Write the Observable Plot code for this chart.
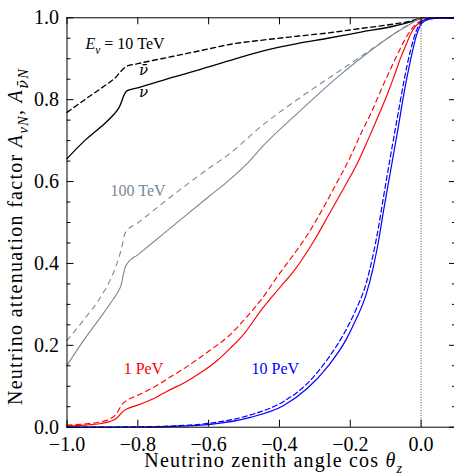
<!DOCTYPE html>
<html><head><meta charset="utf-8">
<script src="https://cdn.jsdelivr.net/npm/d3@7"></script>
<script src="https://cdn.jsdelivr.net/npm/@observablehq/plot@0.6"></script>
<style>body{margin:0;background:#fff;overflow:hidden}</style>
</head><body><div id="chart"></div>
<script>
// ---------- data ----------
const cos_10TeV_nu  = [-1,-0.95,-0.905,-0.87,-0.855,-0.848,-0.842,-0.836,-0.83,-0.8,-0.7,-0.6,-0.547,-0.443,-0.35,-0.264,-0.17,-0.076,-0.03,0,0.1];
const A_10TeV_nu    = [0.656,0.700,0.733,0.762,0.778,0.790,0.805,0.816,0.822,0.829,0.855,0.880,0.894,0.920,0.937,0.950,0.965,0.980,0.990,0.998,1.0];
const cos_10TeV_nub = [-1,-0.95,-0.9,-0.86,-0.845,-0.83,-0.8,-0.7,-0.6,-0.547,-0.443,-0.35,-0.264,-0.17,-0.076,-0.03,0,0.1];
const A_10TeV_nub   = [0.769,0.800,0.830,0.857,0.872,0.882,0.888,0.906,0.924,0.934,0.946,0.955,0.963,0.974,0.985,0.992,0.999,1.0];

const cos_100TeV_nu  = [-1,-0.953,-0.905,-0.87,-0.855,-0.848,-0.842,-0.836,-0.83,-0.8,-0.717,-0.6,-0.547,-0.49,-0.443,-0.34,-0.236,-0.142,-0.076,-0.03,0,0.1];
const A_100TeV_nu    = [0.151,0.212,0.269,0.312,0.332,0.345,0.368,0.390,0.400,0.421,0.480,0.563,0.600,0.645,0.690,0.774,0.855,0.920,0.961,0.985,0.999,1.0];
const cos_100TeV_nub = [-1,-0.953,-0.905,-0.87,-0.855,-0.845,-0.835,-0.8,-0.717,-0.6,-0.547,-0.443,-0.34,-0.236,-0.132,-0.076,-0.03,0,0.1];
const A_100TeV_nub   = [0.212,0.262,0.318,0.375,0.410,0.440,0.476,0.499,0.556,0.632,0.664,0.741,0.806,0.867,0.928,0.961,0.986,0.999,1.0];

const cos_1PeV_nu  = [-1,-0.95,-0.905,-0.875,-0.86,-0.85,-0.84,-0.83,-0.8,-0.75,-0.717,-0.67,-0.623,-0.58,-0.54,-0.5,-0.45,-0.4,-0.358,-0.302,-0.26,-0.217,-0.18,-0.151,-0.12,-0.095,-0.075,-0.057,-0.042,-0.029,-0.015,0,0.015,0.035,0.1];
const A_1PeV_nu    = [0.003,0.005,0.009,0.015,0.022,0.031,0.040,0.045,0.054,0.072,0.088,0.108,0.133,0.160,0.192,0.228,0.288,0.340,0.383,0.456,0.520,0.586,0.645,0.700,0.762,0.814,0.860,0.904,0.935,0.961,0.980,0.991,0.997,1.0,1.0];
const cos_1PeV_nub = [-1,-0.95,-0.905,-0.875,-0.86,-0.85,-0.84,-0.83,-0.8,-0.75,-0.717,-0.67,-0.623,-0.58,-0.547,-0.5,-0.453,-0.4,-0.358,-0.321,-0.28,-0.245,-0.2,-0.17,-0.14,-0.114,-0.09,-0.066,-0.05,-0.033,-0.015,0,0.015,0.03,0.1];
const A_1PeV_nub   = [0.005,0.008,0.013,0.022,0.033,0.048,0.060,0.066,0.078,0.100,0.118,0.143,0.171,0.198,0.220,0.262,0.310,0.375,0.424,0.470,0.530,0.586,0.660,0.717,0.770,0.822,0.868,0.912,0.940,0.965,0.984,0.993,0.998,1.0,1.0];

const cos_10PeV_nu  = [-1,-0.8,-0.7,-0.595,-0.482,-0.388,-0.321,-0.261,-0.213,-0.185,-0.156,-0.137,-0.120,-0.106,-0.086,-0.066,-0.047,-0.030,-0.013,0.001,0.021,0.055,0.1];
const A_10PeV_nu    = [0.0,0.0005,0.002,0.007,0.024,0.053,0.095,0.151,0.212,0.261,0.322,0.383,0.456,0.529,0.627,0.725,0.822,0.896,0.957,0.986,0.996,0.9995,1.0];
const cos_10PeV_nub = [-1,-0.8,-0.7,-0.595,-0.482,-0.388,-0.321,-0.261,-0.213,-0.185,-0.156,-0.137,-0.120,-0.106,-0.086,-0.066,-0.047,-0.030,-0.013,0.001,0.021,0.055,0.1];
const A_10PeV_nub   = [0.0,0.001,0.003,0.010,0.030,0.063,0.107,0.170,0.236,0.285,0.349,0.415,0.490,0.563,0.664,0.761,0.852,0.920,0.969,0.991,0.998,1.0,1.0];

const xTicks = [-1,-0.8,-0.6,-0.4,-0.2,0];
const yTicks = [0,0.2,0.4,0.6,0.8,1.0];
const yMinorTicks = [0.05,0.1,0.15,0.25,0.3,0.35,0.45,0.5,0.55,0.65,0.7,0.75,0.85,0.9,0.95];

// series labels (left-aligned) and ν / ν̄ tags (centred)
const seriesLabelText = ["Eν = 10 TeV","100 TeV","1 PeV","10 PeV"];
const seriesLabelCos  = [-0.948,-0.877,-0.840,-0.479];
const seriesLabelA    = [0.937,0.578,0.143,0.143];
const tagText = ["ν̄","ν"];
const tagCos  = [-0.784,-0.784];
const tagA    = [0.871,0.818];

const xTitle = "Neutrino zenith angle cos θz";
const yTitle = "Neutrino attenuation factor AνN, Aν̄N";

// ---------- layout / style ----------
const W = 454, H = 473;
const mL = 66.5, mR = -2, mT = 17.3, mB = 46.3;
const PW = W - mL - mR, PH = H - mT - mB;
const FONT = "Liberation Serif, Times New Roman, serif";

const rows = (cs, as) => cs.map((c, i) => ({c, a: as[i]}));
const series = [
  {d: rows(cos_10TeV_nu, A_10TeV_nu),   stroke: "#000", sw: 1.35, dash: null},
  {d: rows(cos_10TeV_nub, A_10TeV_nub), stroke: "#000", sw: 1.35, dash: "5,3.5"},
  {d: rows(cos_100TeV_nu, A_100TeV_nu),   stroke: "#778899", sw: 1.1, dash: null},
  {d: rows(cos_100TeV_nub, A_100TeV_nub), stroke: "#778899", sw: 1.1, dash: "5,5"},
  {d: rows(cos_1PeV_nu, A_1PeV_nu),   stroke: "#ff0000", sw: 1.15, dash: null},
  {d: rows(cos_1PeV_nub, A_1PeV_nub), stroke: "#ff0000", sw: 1.15, dash: "5,4"},
  {d: rows(cos_10PeV_nu, A_10PeV_nu),   stroke: "#0000ff", sw: 1.2, dash: null},
  {d: rows(cos_10PeV_nub, A_10PeV_nub), stroke: "#0000ff", sw: 1.2, dash: "5,3"}
];
const seriesLabelColors = ["#000","#778899","#ff0000","#0000ff"];
const seriesLabels = seriesLabelText.map((t, i) => ({t, c: seriesLabelCos[i], a: seriesLabelA[i], color: seriesLabelColors[i]}));
const tags = tagText.map((t, i) => ({t, c: tagCos[i], a: tagA[i]}));

const chart = Plot.plot({
  width: W, height: H,
  marginLeft: mL, marginRight: mR, marginTop: mT, marginBottom: mB,
  style: {fontFamily: FONT, fontSize: "20px", background: "#fff", color: "#000"},
  x: {domain: [-1, 0.1]},
  y: {domain: [0, 1]},
  marks: [
    Plot.ruleX([0], {stroke: "#444", strokeWidth: 1, strokeDasharray: "1,1.6"}),
    ...series.map(s => Plot.line(s.d, {x: "c", y: "a", stroke: s.stroke, strokeWidth: s.sw, strokeDasharray: s.dash, curve: "monotone-x"})),
    // inward ticks
    Plot.ruleY(yTicks, {insetRight: PW - 7, stroke: "#000"}),
    Plot.ruleY(yTicks, {insetLeft: PW - 7, stroke: "#000"}),
    Plot.ruleY(yMinorTicks, {insetRight: PW - 4, stroke: "#000"}),
    Plot.ruleY(yMinorTicks, {insetLeft: PW - 4, stroke: "#000"}),
    Plot.ruleX(xTicks, {insetTop: PH - 7, stroke: "#000"}),
    Plot.ruleX(xTicks, {insetBottom: PH - 7, stroke: "#000"}),
    Plot.frame({stroke: "#000", strokeWidth: 1}),
    Plot.axisX({anchor: "bottom", ticks: xTicks, tickSize: 0, tickPadding: 9.5, tickFormat: d3.format(".1f"), label: null, fontSize: 20}),
    Plot.axisY({anchor: "left", ticks: yTicks, tickSize: 0, tickPadding: 8, tickFormat: d3.format(".1f"), label: null, fontSize: 20}),
    // annotations
    Plot.text(seriesLabels, {x: "c", y: "a", text: "t", fill: "color", fontSize: 16, textAnchor: "start"}),
    Plot.text(tags, {x: "c", y: "a", text: "t", fill: "#000", fontSize: 15, textAnchor: "middle", fontStyle: "italic", fontFamily: "DejaVu Serif"}),
    // axis titles
    Plot.text([xTitle], {frameAnchor: "bottom", text: d => d, textAnchor: "middle", lineAnchor: "middle", dy: 33, dx: 12, fontSize: 20}),
    Plot.text([yTitle], {frameAnchor: "left", text: d => d, textAnchor: "middle", lineAnchor: "middle", rotate: -90, dx: -51.2, dy: 14, fontSize: 20})
  ]
});
document.getElementById("chart").append(chart);

// ---------- rich text (italics / subscripts) ----------
function rich(el, parts) {
  const t = d3.select(el);
  t.text(null);
  let shift = 0;
  for (const p of parts) {
    const ts = t.append("tspan").text(p.t);
    if (p.i) ts.attr("font-style", "italic");
    if (p.f) ts.attr("font-family", p.f);
    const target = p.sub ? 0.3 : 0;
    if (p.sub) ts.attr("font-size", "72%");
    if (target !== shift) { ts.attr("dy", (target - shift) * (p.sub ? 1 / 0.72 : 1) + "em"); shift = target; }
  }
}
d3.select(chart).selectAll("text").each(function() {
  const s = this.textContent;
  if (s === "Eν = 10 TeV") rich(this, [{t: "E", i: 1}, {t: "ν", i: 1, sub: 1}, {t: " = 10 TeV"}]);
  else if (s === xTitle) { rich(this, [{t: "Neutrino zenith angle cos "}, {t: "θ", i: 1}, {t: "z", i: 1, sub: 1}]); d3.select(this).style("letter-spacing", "1.2px"); }
  else if (s === yTitle) { rich(this, [{t: "Neutrino attenuation factor "}, {t: "A", i: 1}, {t: "νN", i: 1, sub: 1}, {t: ", "}, {t: "A", i: 1}, {t: "ν̄", i: 1, sub: 1, f: "DejaVu Serif"}, {t: "N", i: 1, sub: 1}]); d3.select(this).style("letter-spacing", "1.3px"); }
});
</script>
</body></html>
